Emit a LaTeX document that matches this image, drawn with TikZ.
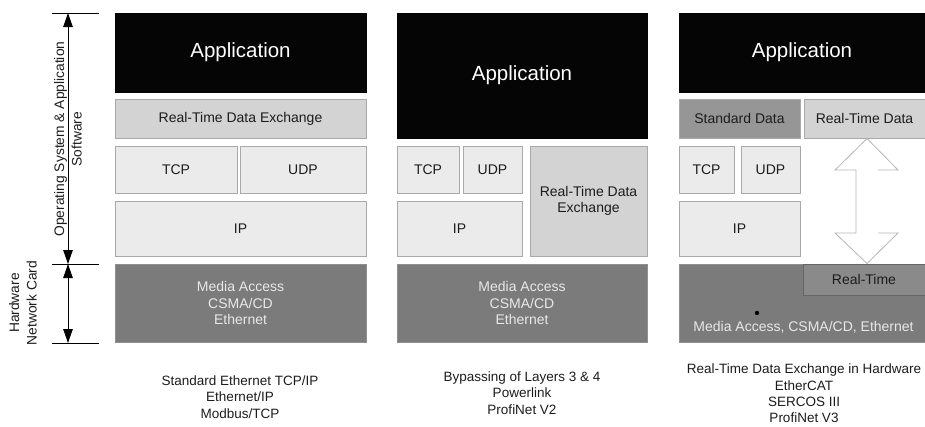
\documentclass[tikz,border=0pt]{standalone}
\usepackage{fontspec}
\setmainfont{Liberation Sans}
\usetikzlibrary{arrows.meta}
\definecolor{appfill}{HTML}{050505}
\definecolor{rtfill}{HTML}{D3D3D3}
\definecolor{ltfill}{HTML}{EBEBEB}
\definecolor{macfill}{HTML}{7B7B7B}
\definecolor{stdfill}{HTML}{969696}
\definecolor{rtbox}{HTML}{8A8A8A}
\definecolor{edge}{HTML}{A9A9A9}
\definecolor{txt}{HTML}{1C1C1C}
\definecolor{mactxt}{HTML}{E8E8E8}
\definecolor{arrowedge}{HTML}{B5B5B5}
\begin{document}
\begin{tikzpicture}[x=1pt,y=-1pt,
  blk/.style={draw=edge, line width=0.8pt, inner sep=0pt, outer sep=0pt, align=center,
    text=txt, font=\fontsize{14}{16.5}\selectfont},
  appblk/.style={blk, draw=appfill, fill=appfill, text=white, font=\fontsize{20.5}{24}\selectfont},
  rtblk/.style={blk, fill=rtfill},
  ltblk/.style={blk, fill=ltfill},
  macblk/.style={blk, draw=macfill!85!white, fill=macfill, text=mactxt},
  stdblk/.style={blk, fill=stdfill},
  rtime/.style={blk, draw=black!60, fill=rtbox},
  caption/.style={align=center, text=txt, inner sep=0pt, font=\fontsize{13.5}{16.3}\selectfont},
  sidelabel/.style={align=center, text=txt, inner sep=0pt, rotate=90, font=\fontsize{13.8}{17.5}\selectfont},
  tick/.style={line width=0.9pt, black},
  dim/.style={line width=0.9pt, black, {Triangle[length=14pt,width=9.5pt]}-{Triangle[length=14pt,width=9.5pt]}},
  hollow/.style={draw=arrowedge, line width=0.8pt, line join=miter}
]
\useasboundingbox (0,0) rectangle (925,426);

% ---------- column 1 ----------
\node[appblk, minimum width=251pt, minimum height=79pt] (app1) at (240.5,52.5) {Application};
\node[rtblk, minimum width=251pt, minimum height=39pt] (rtde1) at (240.5,118.5) {Real-Time Data Exchange};
\node[ltblk, minimum width=122pt, minimum height=47pt] (tcp1) at (176,169.5) {TCP};
\node[ltblk, minimum width=126pt, minimum height=47pt] (udp1) at (303,169.5) {UDP};
\node[ltblk, minimum width=251pt, minimum height=55pt] (ip1) at (240.5,228.5) {IP};
\node[macblk, minimum width=251pt, minimum height=78pt] (mac1) at (240.5,303) {Media Access\\CSMA/CD\\Ethernet};
\node[caption] (cap1) at (240,397) {Standard Ethernet TCP/IP\\Ethernet/IP\\Modbus/TCP};

% ---------- column 2 ----------
\node[appblk, minimum width=250pt, minimum height=125pt] (app2) at (522,75.5) {Application};
\node[ltblk, minimum width=62pt, minimum height=47pt] (tcp2) at (428,169.5) {TCP};
\node[ltblk, minimum width=59pt, minimum height=47pt] (udp2) at (492.5,169.5) {UDP};
\node[ltblk, minimum width=125pt, minimum height=55pt] (ip2) at (459.5,228.5) {IP};
\node[rtblk, minimum width=117pt, minimum height=110pt] (rtde2) at (588.5,201) {Real-Time Data\\Exchange};
\node[macblk, minimum width=250pt, minimum height=78pt] (mac2) at (522,303) {Media Access\\CSMA/CD\\Ethernet};
\node[caption] (cap2) at (522,393) {Bypassing of Layers 3 \& 4\\Powerlink\\ProfiNet V2};

% ---------- column 3 ----------
\node[appblk, minimum width=246pt, minimum height=79pt] (app3) at (802,52.5) {Application};
\node[stdblk, minimum width=121pt, minimum height=39pt] (std3) at (739.5,118.5) {Standard Data};
\node[rtblk, minimum width=121pt, minimum height=39pt] (rtd3) at (864.5,118.5) {Real-Time Data};
\node[ltblk, minimum width=55pt, minimum height=47pt] (tcp3) at (706.5,169.5) {TCP};
\node[ltblk, minimum width=59pt, minimum height=47pt] (udp3) at (770.5,169.5) {UDP};
\node[ltblk, minimum width=121pt, minimum height=55pt] (ip3) at (739.5,228.5) {IP};
\node[macblk, minimum width=246pt, minimum height=78pt] (mac3) at (802,303) {};
\node[rtime, minimum width=122pt, minimum height=31pt] (rt3) at (864,279.5) {Real-Time};
\node[text=mactxt, inner sep=0pt, font=\fontsize{14}{16.5}\selectfont] (mac3t) at (803.5,327) {Media Access, CSMA/CD, Ethernet};
\fill[black] (757,313) circle (2.2pt);
\node[caption] (cap3) at (804,393.5) {Real-Time Data Exchange in Hardware\\EtherCAT\\SERCOS III\\ProfiNet V3};

% hollow double arrow between Real-Time Data and Real-Time
\coordinate (tipT) at (867,138.5);
\coordinate (tipB) at (867,263.5);
\draw[hollow] (878,233) -- (898,233) -- (tipB) -- (835,233) -- (856,233) -- (856,170)
  -- (835,170) -- (tipT) -- (898,170) -- (878,170);

% ---------- left scale ----------
\coordinate (t1) at (68,13);
\coordinate (t2) at (68,264);
\coordinate (t3) at (68,343);
\draw[tick] (52,13) -- (99,13);
\draw[tick] (52,264) -- (99,264);
\draw[tick] (52,343) -- (99,343);
\draw[dim] (t1) -- (t2);
\draw[dim] (t2) -- (t3);
\node[sidelabel] (oslab) at (68,139) {Operating System \& Application\\Software};
\node[sidelabel] (hwlab) at (23,303) {Hardware\\Network Card};
\end{tikzpicture}
\end{document}
